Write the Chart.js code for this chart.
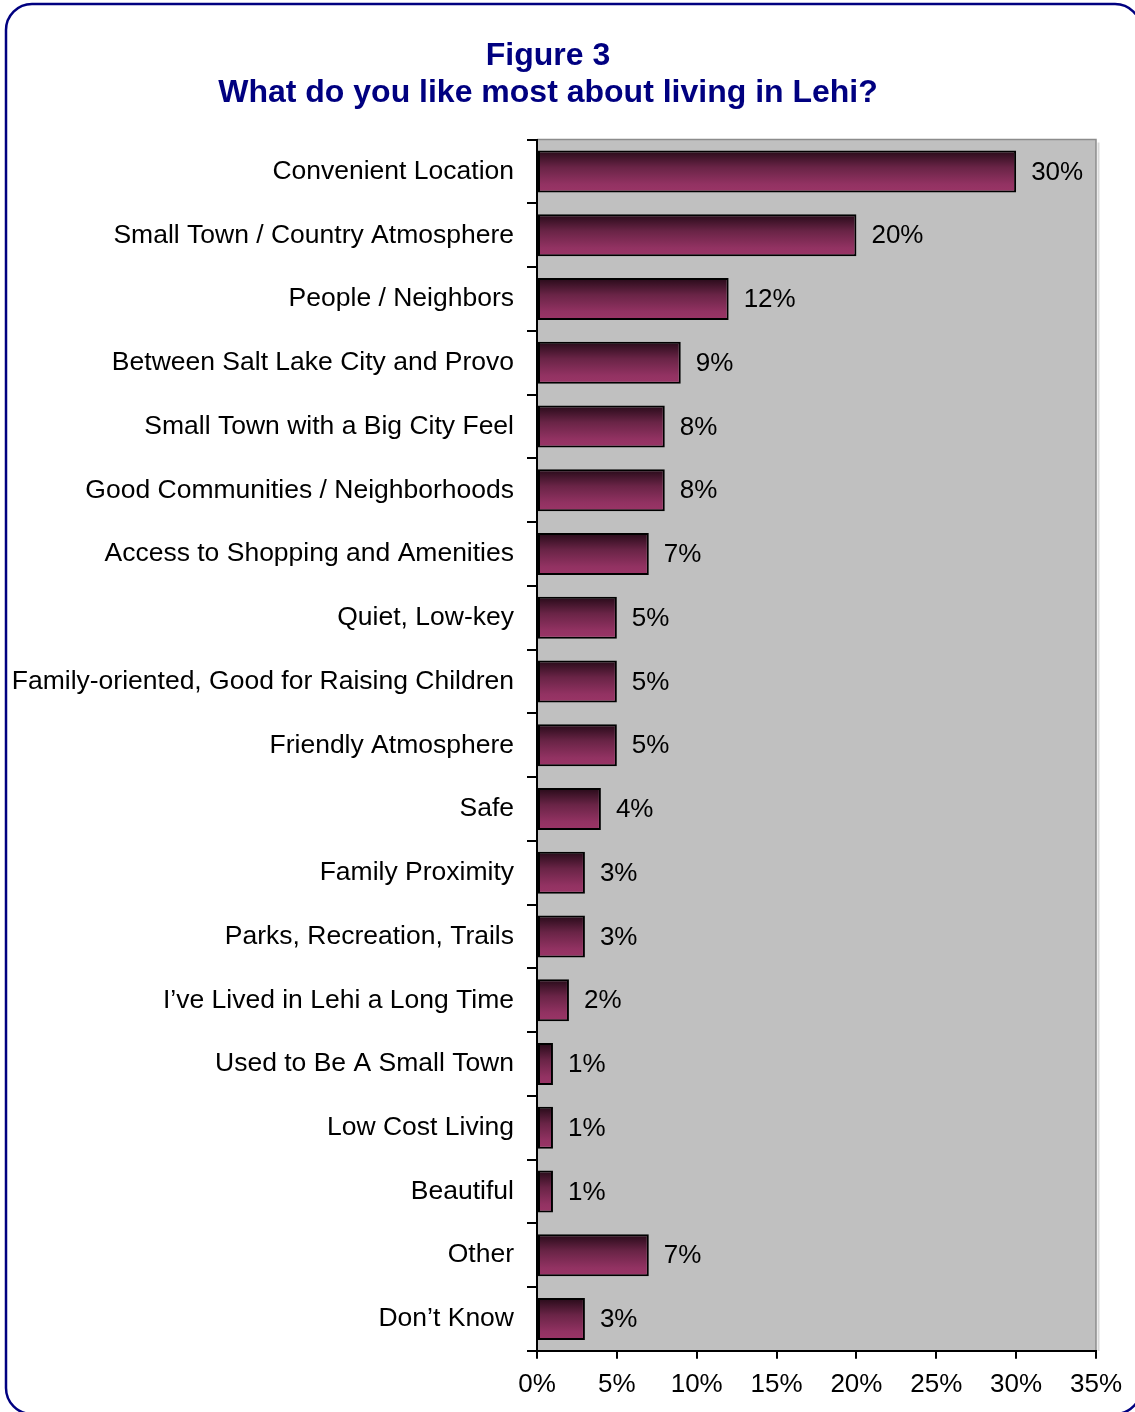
<!DOCTYPE html>
<html>
<head>
<meta charset="utf-8">
<script src="https://cdn.jsdelivr.net/npm/chart.js@4/dist/chart.umd.min.js"></script>
<style>
  body { margin: 0; background: #fff; }
  canvas { display: block; }
</style>
</head>
<body>
<canvas id="myChart" width="1135" height="1412"></canvas>
<script>
const categories = [
  'Convenient Location',
  'Small Town / Country Atmosphere',
  'People / Neighbors',
  'Between Salt Lake City and Provo',
  'Small Town with a Big City Feel',
  'Good Communities / Neighborhoods',
  'Access to Shopping and Amenities',
  'Quiet, Low-key',
  'Family-oriented, Good for Raising Children',
  'Friendly Atmosphere',
  'Safe',
  'Family Proximity',
  'Parks, Recreation, Trails',
  'I\u2019ve Lived in Lehi a Long Time',
  'Used to Be A Small Town',
  'Low Cost Living',
  'Beautiful',
  'Other',
  'Don\u2019t Know'
];

const percents = [30, 20, 12, 9, 8, 8, 7, 5, 5, 5, 4, 3, 3, 2, 1, 1, 1, 7, 3];

const titleLines = ['Figure 3', 'What do you like most about living in Lehi?'];

const fontFamily = '"Liberation Sans", Arial, sans-serif';
const barPct = 0.66;

// vertical dark-to-plum fill for each bar
function barFill(ctx) {
  const chart = ctx.chart;
  const y = chart.scales.y;
  if (!y || !chart.chartArea) return '#993366';
  const cy = y.getPixelForValue(ctx.dataIndex);
  const half = (chart.chartArea.height / categories.length) * barPct / 2;
  const g = chart.ctx.createLinearGradient(0, cy - half, 0, cy + half);
  g.addColorStop(0, '#260a18');
  g.addColorStop(0.4, '#692446');
  g.addColorStop(0.8, '#923262');
  g.addColorStop(1, '#9b3567');
  return g;
}

const frame = {
  id: 'frame',
  beforeDraw(chart) {
    const c = chart.ctx;
    const a = chart.chartArea;
    c.save();
    c.fillStyle = '#ffffff';
    c.fillRect(0, 0, chart.width, chart.height);
    // rounded navy outline
    c.strokeStyle = '#000080';
    c.lineWidth = 2.5;
    c.beginPath();
    c.roundRect(6, 4, 1135, 1410, 26);
    c.stroke();
    // plot background
    c.fillStyle = '#c0c0c0';
    c.fillRect(a.left, a.top, a.right - a.left, a.bottom - a.top);
    c.strokeStyle = '#8c8c8c';
    c.lineWidth = 1.5;
    c.beginPath();
    c.moveTo(a.left, a.top);
    c.lineTo(a.right, a.top);
    c.lineTo(a.right, a.bottom);
    c.stroke();
    c.strokeStyle = '#d9d9d9';
    c.lineWidth = 2;
    c.beginPath();
    c.moveTo(a.right + 2.5, a.top + 3);
    c.lineTo(a.right + 2.5, a.bottom);
    c.stroke();
    c.restore();
  }
};

const valueLabels = {
  id: 'valueLabels',
  afterDatasetsDraw(chart) {
    const c = chart.ctx;
    const meta = chart.getDatasetMeta(0);
    c.save();
    c.font = '26px ' + fontFamily;
    c.fillStyle = '#000';
    c.textAlign = 'left';
    c.textBaseline = 'middle';
    meta.data.forEach((bar, i) => {
      c.fillText(percents[i] + '%', bar.x + 15, bar.y + 1);
    });
    c.restore();
  }
};

const ctx = document.getElementById('myChart').getContext('2d');
const chart = new Chart(ctx, {
  type: 'bar',
  data: {
    labels: categories,
    datasets: [
      {
        data: percents,
        backgroundColor: barFill,
        borderColor: '#000',
        borderWidth: 2,
        borderSkipped: false,
        barPercentage: barPct,
        categoryPercentage: 1
      }
    ]
  },
  options: {
    indexAxis: 'y',
    responsive: false,
    animation: false,
    layout: { padding: { left: 0, right: 39, top: 0, bottom: 2 } },
    plugins: {
      legend: { display: false },
      tooltip: { enabled: false },
      title: {
        display: true,
        text: titleLines,
        color: '#000080',
        font: { family: fontFamily, size: 32, weight: 'bold', lineHeight: 1.15 },
        padding: { top: 38, bottom: 28 }
      }
    },
    scales: {
      x: {
        min: 0,
        max: 35,
        ticks: {
          stepSize: 5,
          callback: v => v + '%',
          color: '#000',
          font: { family: fontFamily, size: 26 },
          padding: 10,
          maxRotation: 0
        },
        grid: { drawOnChartArea: false, tickLength: 8, color: '#000', lineWidth: 2 },
        border: { color: '#000', width: 2 }
      },
      y: {
        afterFit(scale) { scale.width = 537; },
        ticks: {
          color: '#000',
          font: { family: fontFamily, size: 26.5 },
          padding: 13,
          autoSkip: false
        },
        grid: { drawOnChartArea: false, tickLength: 10, color: '#000', lineWidth: 2, offset: true },
        border: { color: '#000', width: 2 }
      }
    }
  },
  plugins: [frame, valueLabels]
});
</script>
</body>
</html>
